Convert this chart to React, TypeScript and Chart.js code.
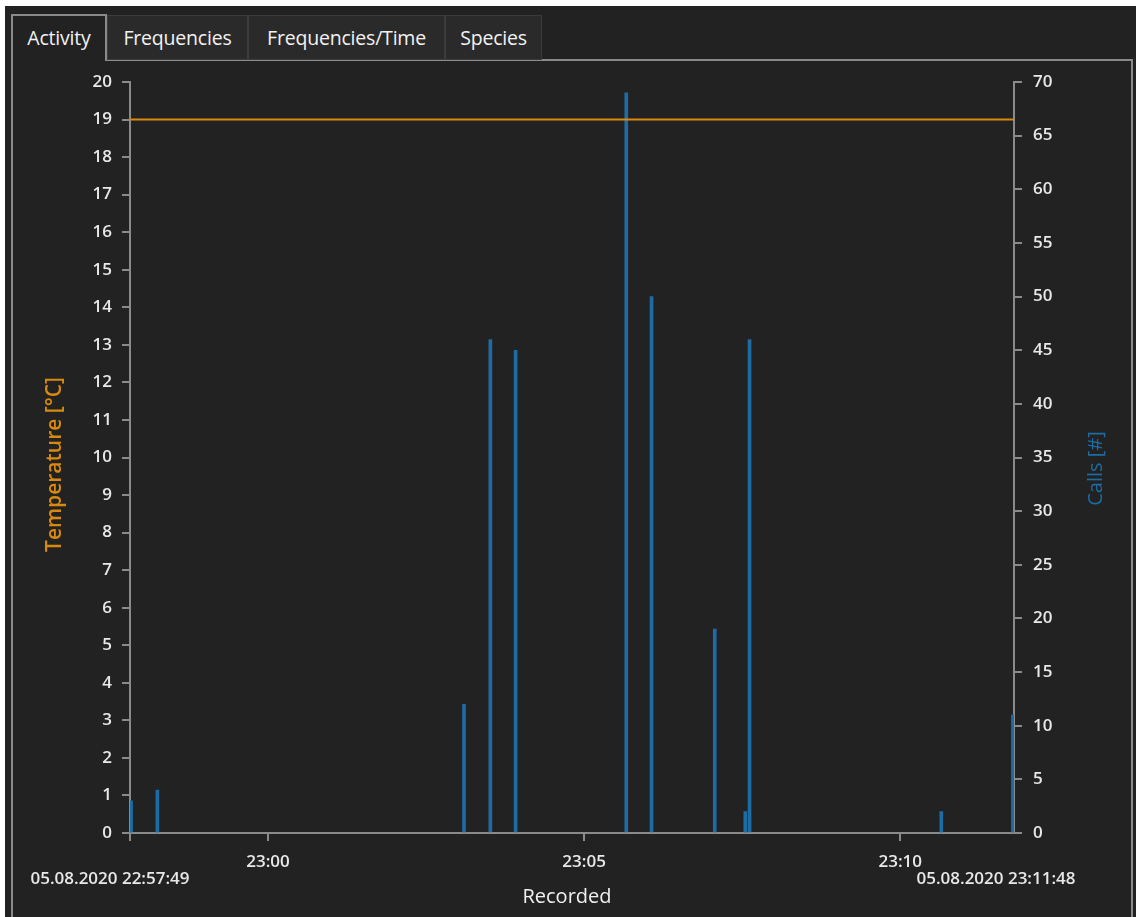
import React, { useEffect, useRef } from "react";
import { Chart, registerables } from "chart.js";

Chart.register(...registerables);

// ---- data ----
const startTime = "22:57:49";
const endTime = "23:11:48";
const startLabel = "05.08.2020 22:57:49";
const endLabel = "05.08.2020 23:11:48";
const xTickTimes = ["22:57:49", "23:00:00", "23:05:00", "23:10:00"];

const callTimes = [
  "22:57:50", "22:58:15", "23:03:06", "23:03:31", "23:03:55", "23:05:40",
  "23:06:04", "23:07:04", "23:07:33", "23:07:37", "23:10:39", "23:11:47",
];
const callCounts = [3, 4, 12, 46, 45, 69, 50, 19, 2, 46, 2, 11];

const tempTimes = ["22:57:49", "23:11:48"];
const tempValues = [19, 19];

const tabs = ["Activity", "Frequencies", "Frequencies/Time", "Species"];

// ---- helpers ----
const toSec = (t: string) => {
  const [h, m, s] = t.split(":").map(Number);
  return h * 3600 + m * 60 + s;
};
const t0 = toSec(startTime);
const rel = (t: string) => toSec(t) - t0;
const fmt = (v: number) => {
  const total = t0 + v;
  const h = Math.floor(total / 3600);
  const m = Math.floor((total % 3600) / 60);
  return `${String(h).padStart(2, "0")}:${String(m).padStart(2, "0")}`;
};

const FONT = "'Open Sans', 'Noto Sans', sans-serif";
const AXIS = "#8a8a8a";
const TICK_TEXT = "#e8e8e8";
const ORANGE = "#d98a0e";
const BLUE = "#1e6ca4";
const BG = "#222222";

const labelsPlugin = {
  id: "customLabels",
  afterDraw(chart: any) {
    const { ctx, chartArea } = chart;
    const { left, right, top, bottom } = chartArea;
    const midY = (top + bottom) / 2;
    ctx.save();
    ctx.textAlign = "center";
    ctx.textBaseline = "middle";

    ctx.save();
    ctx.translate(left - 75, midY + 7);
    ctx.rotate(-Math.PI / 2);
    ctx.fillStyle = ORANGE;
    ctx.font = `600 21px ${FONT}`;
    ctx.fillText("Temperature [°C]", 0, 0);
    ctx.restore();

    ctx.save();
    ctx.translate(right + 82, midY + 11);
    ctx.rotate(-Math.PI / 2);
    ctx.fillStyle = BLUE;
    ctx.font = `20px ${FONT}`;
    ctx.fillText("Calls [#]", 0, 0);
    ctx.restore();

    ctx.fillStyle = "#f0f0f0";
    ctx.font = `20px ${FONT}`;
    ctx.fillText("Recorded", (left + right) / 2 - 5, bottom + 64);

    ctx.fillStyle = TICK_TEXT;
    ctx.font = `600 17px ${FONT}`;
    const xs = chart.scales.x;
    ctx.fillText(startLabel, xs.getPixelForValue(rel(startTime)) - 20, bottom + 46);
    ctx.fillText(endLabel, xs.getPixelForValue(rel(endTime)) - 18, bottom + 46);
    ctx.restore();
  },
};

export default function App() {
  const ref = useRef<HTMLCanvasElement | null>(null);

  useEffect(() => {
    if (!ref.current) return;
    const tickFont = { family: FONT, size: 17, weight: "600" as any };
    const grid = {
      drawOnChartArea: false,
      drawTicks: true,
      tickLength: 8,
      color: AXIS,
      lineWidth: 2,
      offset: false,
    };
    const border = { display: true, color: AXIS, width: 2 };
    const chart = new Chart(ref.current, {
      type: "bar",
      data: {
        datasets: [
          {
            type: "line",
            label: "Temperature",
            data: tempTimes.map((t, i) => ({ x: rel(t), y: tempValues[i] })),
            borderColor: ORANGE,
            borderWidth: 2,
            pointRadius: 0,
            yAxisID: "yTemp",
            xAxisID: "x",
            order: 0,
          } as any,
          {
            type: "bar",
            label: "Calls",
            data: callTimes.map((t, i) => ({ x: rel(t), y: callCounts[i] })),
            backgroundColor: BLUE,
            barThickness: 3,
            yAxisID: "yCalls",
            xAxisID: "x",
            order: 1,
          } as any,
        ],
      },
      options: {
        animation: false,
        responsive: false,
        devicePixelRatio: 1,
        layout: { padding: { top: 82, left: 0, right: 0, bottom: 0 } },
        plugins: { legend: { display: false }, tooltip: { enabled: false } },
        scales: {
          x: {
            type: "linear",
            offset: false,
            min: rel(startTime),
            max: rel(endTime),
            grid,
            border,
            afterBuildTicks: (s: any) => {
              s.ticks = xTickTimes.map((t) => ({ value: rel(t) }));
            },
            afterFit: (s: any) => {
              s.height = 84;
            },
            ticks: {
              color: TICK_TEXT,
              font: tickFont,
              padding: 11,
              maxRotation: 0,
              autoSkip: false,
              callback: (v: any) => (Number(v) === rel(startTime) ? "" : fmt(Number(v))),
            },
          },
          yTemp: {
            type: "linear",
            position: "left",
            min: 0,
            max: 20,
            grid,
            border,
            afterFit: (s: any) => {
              s.width = 130;
            },
            ticks: { stepSize: 1, color: TICK_TEXT, font: tickFont, padding: 10 },
          },
          yCalls: {
            type: "linear",
            position: "right",
            min: 0,
            max: 70,
            grid,
            border,
            afterFit: (s: any) => {
              s.width = 122;
            },
            ticks: { stepSize: 5, color: TICK_TEXT, font: tickFont, padding: 11 },
          },
        } as any,
      },
      plugins: [labelsPlugin],
    });
    return () => chart.destroy();
  }, []);

  const tabPos = [
    { left: 11, width: 96 },
    { left: 107, width: 141 },
    { left: 248, width: 197 },
    { left: 445, width: 97 },
  ];

  return (
    <div
      style={{
        position: "fixed",
        left: 0,
        top: 0,
        width: 1136,
        height: 917,
        background: "#ffffff",
        overflow: "hidden",
        fontFamily: FONT,
      }}
    >
      <div style={{ position: "absolute", left: 5, top: 6, right: 0, bottom: 0, background: BG }} />
      <div
        style={{
          position: "absolute",
          left: 11,
          top: 59,
          width: 1122,
          height: 900,
          border: `2px solid ${AXIS}`,
          boxSizing: "border-box",
        }}
      />
      {tabs.map((t, i) => {
        const sel = i === 0;
        return (
          <div
            key={t}
            style={{
              position: "absolute",
              left: tabPos[i].left,
              top: sel ? 14 : 15,
              width: tabPos[i].width,
              height: sel ? 47 : 45,
              boxSizing: "border-box",
              border: sel ? `2px solid ${AXIS}` : "1px solid #3c3c3c",
              borderBottom: sel ? "none" : "1px solid #3c3c3c",
              background: sel ? BG : "#2a2a2a",
              color: "#f2f2f2",
              fontSize: 19.5,
              letterSpacing: -0.2,
              display: "flex",
              alignItems: "center",
              justifyContent: "center",
              paddingBottom: sel ? 2 : 0,
            }}
          >
            {t}
          </div>
        );
      })}
      <canvas
        ref={ref}
        width={1136}
        height={917}
        style={{ position: "absolute", left: 0, top: 0, width: 1136, height: 917 }}
      />
    </div>
  );
}
